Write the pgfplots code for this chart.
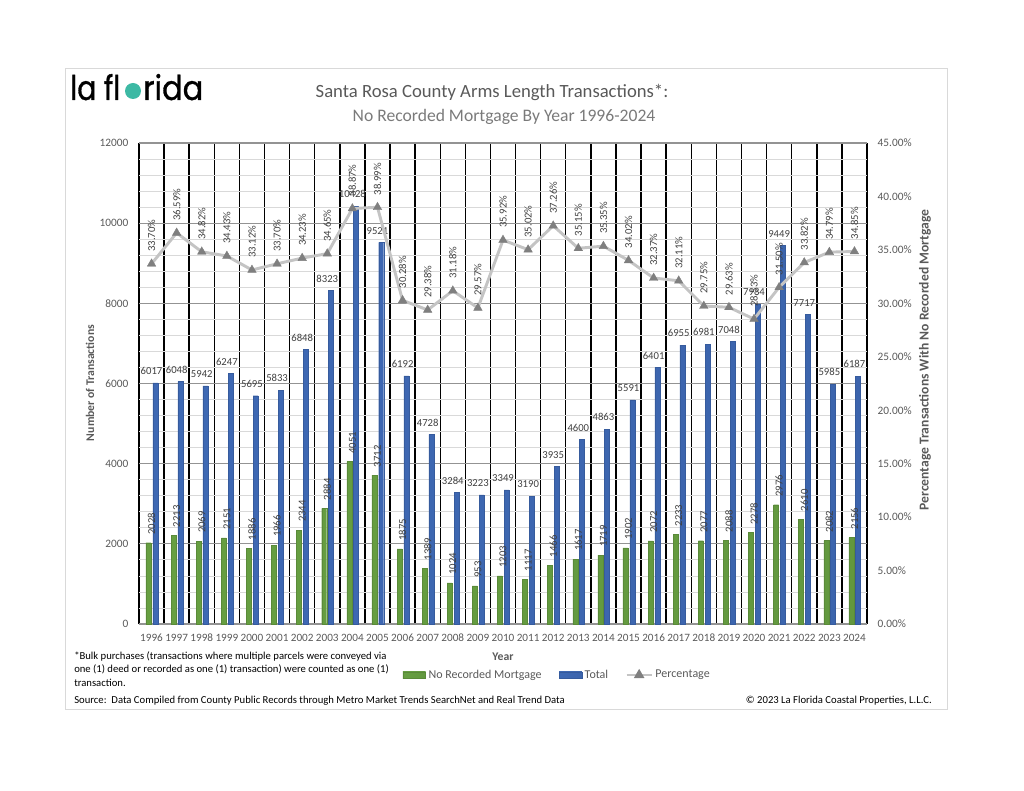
\documentclass[border=0pt]{standalone}
\usepackage{pgfplots}
\pgfplotsset{compat=1.18}
\usepackage{fontspec}
\setmainfont{Carlito}
\newfontfamily\logofont{Poppins}[FakeBold=1]

\definecolor{txt}{HTML}{595959}
\definecolor{lbl}{HTML}{404040}
\definecolor{grn}{HTML}{70AD47}
\definecolor{blu}{HTML}{4472C4}
\definecolor{linec}{HTML}{C4C4C4}
\definecolor{markc}{HTML}{7F7F7F}
\definecolor{logoteal}{HTML}{3DB9A4}
\definecolor{framec}{HTML}{D9D9D9}

\pgfplotsset{
  barleg/.style={legend image code/.code={\draw[##1] (0pt,-2.3pt) rectangle (17pt,2.3pt);}},
  lineleg/.style={legend image code/.code={\draw[mark repeat=2,mark phase=2,##1] plot coordinates {(0pt,0pt) (9.4pt,0pt) (18.8pt,0pt)};}},
  base/.style={
    at={(104.25pt,-468pt)}, anchor=south west, scale only axis,
    width=546pt, height=360.75pt,
    xmin=-0.5, xmax=28.5, clip=false,
    scaled y ticks=false,
    /pgf/number format/assume math mode=true,
    /pgf/number format/1000 sep={},
    major tick length=0pt, minor tick length=0pt,
    axis line style={draw=none},
    ticklabel style={font=\fontsize{8.5}{10}\selectfont, color=txt},
  }
}

\pgfplotstableread{
x year nomort total pct
0 1996 2028 6017 33.70
1 1997 2213 6048 36.59
2 1998 2069 5942 34.82
3 1999 2151 6247 34.43
4 2000 1886 5695 33.12
5 2001 1966 5833 33.70
6 2002 2344 6848 34.23
7 2003 2884 8323 34.65
8 2004 4051 10428 38.87
9 2005 3712 9521 38.99
10 2006 1875 6192 30.28
11 2007 1389 4728 29.38
12 2008 1024 3284 31.18
13 2009 953 3223 29.57
14 2010 1203 3349 35.92
15 2011 1117 3190 35.02
16 2012 1466 3935 37.26
17 2013 1617 4600 35.15
18 2014 1719 4863 35.35
19 2015 1902 5591 34.02
20 2016 2072 6401 32.37
21 2017 2233 6955 32.11
22 2018 2077 6981 29.75
23 2019 2088 7048 29.63
24 2020 2278 7984 28.53
25 2021 2976 9449 31.50
26 2022 2610 7717 33.82
27 2023 2082 5985 34.79
28 2024 2156 6187 34.85
}\data

\begin{document}
\begin{tikzpicture}
\begin{scope}[x=0.75pt,y=-0.75pt]
\path (0,0) rectangle (1024,791);
\draw[color=framec, line width=0.75pt] (65,69) rectangle (947,709);

% logo
\node[anchor=base west, inner sep=0pt] at (70,100) {\resizebox{37.5pt}{19.5pt}{\logofont la fl}};
\fill[logoteal] (133,91) circle (8);
\node[anchor=base west, inner sep=0pt] at (143,100) {\resizebox{45pt}{19.5pt}{\logofont rida}};

% titles
\node[font=\fontsize{14}{16}\selectfont, color=txt] at (492,92) {Santa Rosa County Arms Length Transactions*:};
\node[font=\fontsize{13.2}{15}\selectfont, color=txt!80!white] at (504,117) {No Recorded Mortgage By Year 1996-2024};

% axis titles
\node[rotate=90, font=\bfseries\fontsize{8.8}{10}\selectfont, color=txt] at (90,383) {Number of Transactions};
\node[rotate=90, font=\bfseries\fontsize{10.2}{12}\selectfont, color=txt] at (925,360) {Percentage Transactions With No Recorded Mortgage};
\node[font=\bfseries\fontsize{8.8}{10}\selectfont, color=txt] at (503,657) {Year};

% notes
\begin{scope}[every node/.style={anchor=west, inner sep=0pt, font=\fontsize{8}{9}\selectfont}]
\node at (74,656) {*Bulk purchases (transactions where multiple parcels were conveyed via};
\node at (74,669) {one (1) deed or recorded as one (1) transaction) were counted as one (1)};
\node at (74,683) {transaction.};
\node at (74,701) {Source:\ \ Data Compiled from County Public Records through Metro Market Trends SearchNet and Real Trend Data};
\node[anchor=east] at (932,701) {© 2023 La Florida Coastal Properties, L.L.C.};
\end{scope}
\end{scope}

\begin{axis}[base,
  ymin=0, ymax=12000,
  xtick={0,...,28},
  xticklabels={1996,1997,1998,1999,2000,2001,2002,2003,2004,2005,2006,2007,2008,2009,2010,2011,2012,2013,2014,2015,2016,2017,2018,2019,2020,2021,2022,2023,2024},
  xticklabel style={font=\fontsize{8.4}{10}\selectfont, yshift=-4pt},
  yticklabel style={xshift=-4.5pt},
  minor xtick={-0.5,0.5,...,28.5},
  xminorgrids, minor x grid style={black, line width=1.1pt},
  ytick={0,2000,...,12000}, minor y tick num=4,
  ymajorgrids, yminorgrids,
  major y grid style={color=gray!85!white, line width=0.8pt},
  minor y grid style={color=framec, line width=0.6pt},
  legend style={at={(axis description cs:0.575,-0.106)}, anchor=center, draw=none, fill=none,
    legend columns=-1, font=\fontsize{9}{11}\selectfont, text=txt,
    /tikz/every even column/.append style={column sep=11pt}},
]
\addplot[ybar, barleg, bar width=3.75pt, bar shift=-2.3pt, draw=grn!80!black, line width=0.3pt,
  left color=grn!92!black, middle color=grn!55!white, right color=grn!88!black,
  nodes near coords={\rotatebox{90}{\pgfmathprintnumber{\pgfplotspointmeta}}}, point meta=explicit,
  nodes near coords style={inner sep=0pt, inner ysep=6pt, font=\fontsize{8}{9}\selectfont, color=lbl}]
  table[x=x, y=nomort, meta=nomort] {\data};
\addlegendentry{No Recorded Mortgage}
\addplot[ybar, barleg, bar width=3.75pt, bar shift=2.8pt, draw=blu!80!black, line width=0.3pt,
  left color=blu!92!black, middle color=blu!55!white, right color=blu!88!black,
  nodes near coords, point meta=explicit,
  nodes near coords style={inner sep=0pt, inner ysep=6pt, font=\fontsize{8}{9}\selectfont, color=lbl}]
  table[x=x, y=total, meta=total] {\data};
\addlegendentry{Total}
\addlegendimage{lineleg, color=linec, line width=1.6pt, mark=triangle*, mark size=3pt, mark options={fill=markc, draw=markc}}
\addlegendentry{Percentage}
\end{axis}

\begin{axis}[base,
  ymin=0, ymax=45,
  hide x axis,
  axis y line*=right,
  ytick={0,5,...,45},
  yticklabel={\pgfmathprintnumber[fixed,fixed zerofill,precision=2]{\tick}\%},
  yticklabel style={xshift=4.5pt, anchor=west},
]
\addplot[color=linec, line width=2.2pt, mark=triangle*, mark size=3.7pt,
  mark options={fill=markc, draw=markc, line width=0.3pt},
  nodes near coords={\rotatebox{90}{\pgfmathprintnumber[fixed,fixed zerofill,precision=2]{\pgfplotspointmeta}\%}},
  point meta=explicit,
  nodes near coords style={inner sep=0pt, inner ysep=9pt, font=\fontsize{8}{9}\selectfont, color=lbl}]
  table[x=x, y=pct, meta=pct] {\data};
\end{axis}
\end{tikzpicture}
\end{document}
